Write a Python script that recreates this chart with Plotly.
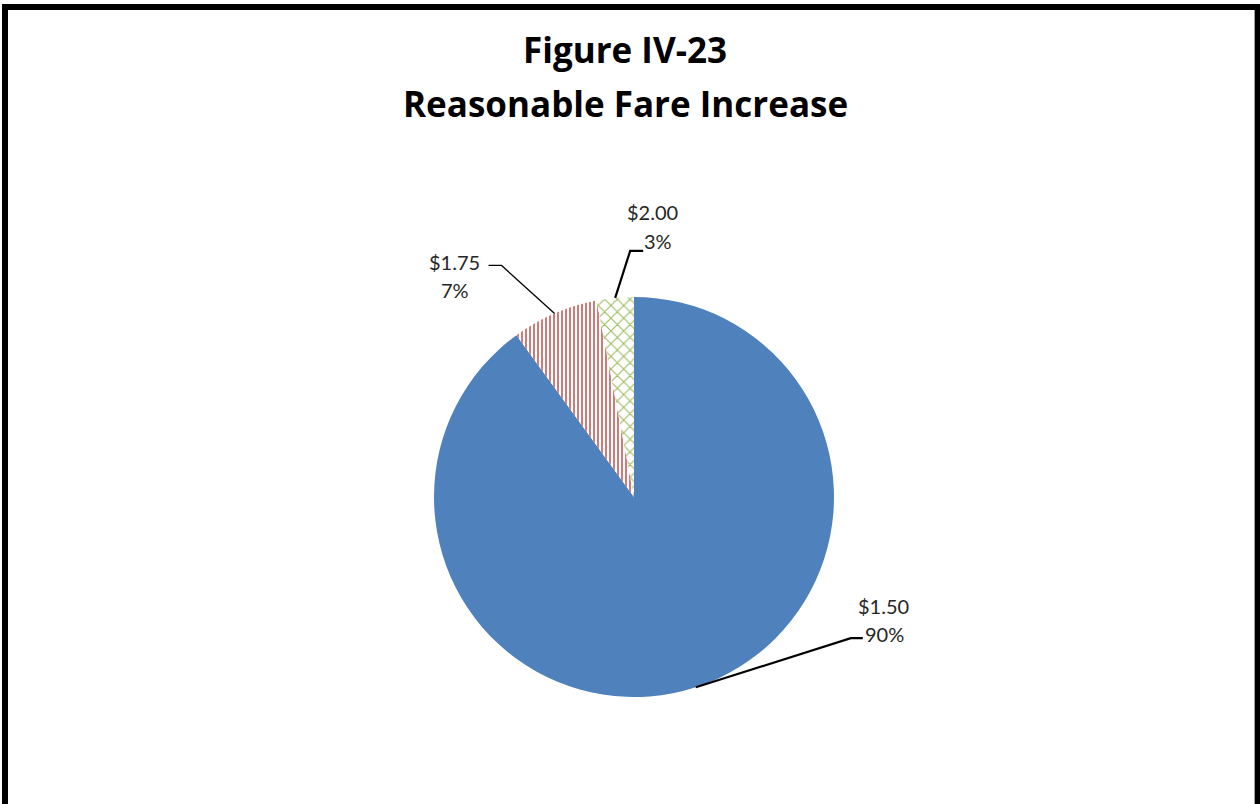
import math
import plotly.graph_objects as go

# Survey responses: reasonable fare increase
fares = ["$1.50", "$1.75", "$2.00"]
shares = [90, 7, 3]
colors = ["#4F81BD", "#C0504D", "#9BBB59"]
patterns = ["", "|", "x"]

title_lines = ["Figure IV-23", "Reasonable Fare Increase"]

W, H = 1260, 804
CX, CY, R = 634, 497, 200          # pie centre and radius in pixels


def px(x):
    return x / W


def py(y):
    return 1 - y / H


fig = go.Figure(go.Pie(
    labels=fares,
    values=shares,
    sort=False,
    direction="clockwise",
    rotation=0,
    textinfo="none",
    hoverinfo="label+percent",
    showlegend=False,
    marker=dict(
        colors=colors,
        line=dict(width=0),
        pattern=dict(
            shape=patterns,
            fgcolor=colors,
            bgcolor=["#4F81BD", "white", "white"],
            size=[8, 4, 9],
            solidity=[0.3, 0.38, 0.22],
            fillmode="replace",
        ),
    ),
    domain=dict(x=[px(CX - R), px(CX + R)], y=[py(CY + R), py(CY - R)]),
))

# leader-line layout: (elbow dx, elbow dy, tail dx) from the slice edge,
# and label centres for the two text lines
leader_layout = {
    "$1.50": ((155, -49), 12, (884, 606), (885, 634)),
    "$1.75": ((-53, -48), -13, (454, 262), (455, 290)),
    "$2.00": ((15, -47), 13, (652, 212), (658, 241)),
}

shapes = []
annotations = []
total = sum(shares)
cum = 0.0
label_font = dict(family="Lato, Open Sans, sans-serif", size=20, color="#262626")
for fare, share in zip(fares, shares):
    mid = (cum + share / 2) / total * 2 * math.pi
    cum += share
    ex = CX + R * math.sin(mid)
    ey = CY - R * math.cos(mid)
    (edx, edy), tail, (l1x, l1y), (l2x, l2y) = leader_layout[fare]
    bx, by = ex + edx, ey + edy
    path = (f"M {px(ex)},{py(ey)} L {px(bx)},{py(by)} "
            f"L {px(bx + tail)},{py(by)}")
    shapes.append(dict(type="path", xref="paper", yref="paper", path=path,
                       line=dict(color="black", width=2.2 if fare != "$1.75" else 1.3)))
    pct = f"{round(share / total * 100)}%"
    annotations.append(dict(x=px(l1x), y=py(l1y), xref="paper", yref="paper",
                            text=fare, showarrow=False, font=label_font,
                            xanchor="center", yanchor="middle"))
    annotations.append(dict(x=px(l2x), y=py(l2y), xref="paper", yref="paper",
                            text=pct, showarrow=False, font=label_font,
                            xanchor="center", yanchor="middle"))

title_font = dict(family="Open Sans, Lato, sans-serif", size=35, color="black")
for text, ty in zip(title_lines, [50, 104]):
    annotations.append(dict(x=px(625), y=py(ty), xref="paper", yref="paper",
                            text=f"<b>{text}</b>", showarrow=False,
                            font=title_font, xanchor="center", yanchor="middle"))

# chart frame: left, top and right edges
frame = dict(color="black", width=6)
shapes += [
    dict(type="line", xref="paper", yref="paper", x0=px(5), x1=px(5),
         y0=py(4), y1=0, line=frame),
    dict(type="line", xref="paper", yref="paper", x0=px(2), x1=px(1260),
         y0=py(7), y1=py(7), line=frame),
    dict(type="line", xref="paper", yref="paper", x0=px(1257.5), x1=px(1257.5),
         y0=py(4), y1=0, line=dict(color="black", width=5)),
    dict(type="line", xref="paper", yref="paper", x0=px(1254.5), x1=px(1254.5),
         y0=py(10), y1=0, line=dict(color="#A0A0A0", width=1)),
]

fig.update_layout(
    width=W, height=H,
    margin=dict(l=0, r=0, t=0, b=0),
    paper_bgcolor="white",
    plot_bgcolor="white",
    shapes=shapes,
    annotations=annotations,
)

fig.write_html("out.html")
